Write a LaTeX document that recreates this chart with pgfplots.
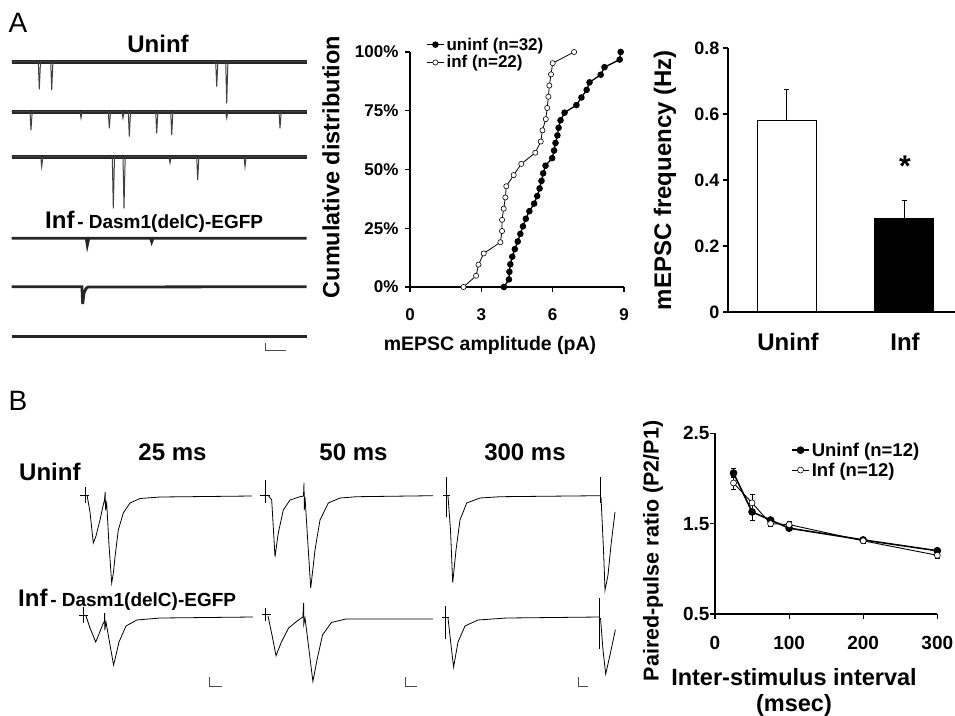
\documentclass[border=0pt]{standalone}
\usepackage{fontspec}
\setmainfont{Liberation Sans}
\usepackage{pgfplots}
\pgfplotsset{compat=1.18}
\newcommand\fs[1]{\fontsize{#1}{#1}\selectfont}
\pgfplotsset{
  panel/.style={scale only axis, anchor=south west, axis lines=left,
    axis line style={-, line width=1.2pt, black}, tick style={line width=1.2pt, black},
    tick align=outside, major tick length=5pt, clip=false,
    /pgf/number format/assume math mode=true},
  legimg/.style={legend image code/.code={
    \draw[mark repeat=2, mark phase=2, ##1] plot coordinates {(0pt,0pt) (8.5pt,0pt) (17pt,0pt)};}},
}
\begin{document}
\begin{tikzpicture}[x=1pt,y=1pt]
\path[use as bounding box] (0,0) rectangle (955,715);

% ---------- traces and labels (image pixel coordinates) ----------
\begin{axis}[at={(0pt,0pt)}, anchor=south west, scale only axis, width=955pt, height=715pt,
  xmin=0, xmax=955, ymin=0, ymax=715, y dir=reverse, hide axis, clip=false]
% A: uninf traces
\addplot[black!85, line width=4.3pt] coordinates {(11.7,61.7) (306.7,61.7)};
\addplot[black!85, line width=4.3pt] coordinates {(11.7,111.7) (306.7,111.7)};
\addplot[black!85, line width=4.3pt] coordinates {(11.7,156.7) (306.7,156.7)};
\addplot[black!75, line width=1pt] coordinates {(11.7,61.7)(38.3,61.7)(39.3,89.3)(40.5,61.7)(50.7,61.7)(51.7,90)(52.9,61.7)(215.7,61.7)(216.7,86.7)(217.9,61.7)(225.7,61.7)(226.7,103.3)(227.9,61.7)(306.7,61.7)};
\addplot[black!75, line width=1pt] coordinates {(11.7,111.7)(30,111.7)(31,130)(32.2,111.7)(80,111.7)(81,118)(82.2,111.7)(108.3,111.7)(109.3,128.3)(110.5,111.7)(122,111.7)(123,118)(124.2,111.7)(128.3,111.7)(129.3,136.7)(130.5,111.7)(155.7,111.7)(156.7,133.3)(157.9,111.7)(170.7,111.7)(171.7,135)(172.9,111.7)(225.7,111.7)(226.7,118)(227.9,111.7)(279,111.7)(280,128.3)(281.2,111.7)(306.7,111.7)};
\addplot[black!75, line width=1pt] coordinates {(11.7,156.7)(40.7,156.7)(41.7,166.7)(42.9,156.7)(112.3,156.7)(113.3,208.3)(114.5,156.7)(123,156.7)(124,208.3)(125.2,156.7)(169,156.7)(170,163)(171.2,156.7)(196.7,156.7)(197.7,180)(198.9,156.7)(244,156.7)(245,166.7)(246.2,156.7)(306.7,156.7)};
% A: inf traces
\addplot[black!85, line width=2.8pt] coordinates {(11.7,238.3)(86.3,238.3)(87.3,245)(88.8,238.3)(150.7,238.3)(151.7,241.7)(153,238.3)(306.7,238.3)};
\addplot[black!85, line width=2.8pt] coordinates {(11.7,286.7)(81.9,286.7)(82.7,304)(84,293)(86,288.5)(88,287)(306.7,286.7)};
\addplot[black!85, line width=2.8pt] coordinates {(11.7,336.7)(306.7,336.7)};
\addplot[black!70, line width=1pt] coordinates {(265.7,343)(265.7,350)(286,350)};
% B: uninf row
\addplot[black, line width=0.8pt] coordinates {(80,495)(89,495)};
\addplot[black, line width=0.8pt] coordinates {(85,487)(85,503)};
\addplot[black, line width=0.8pt] coordinates {(87,495)(90,512)(93.3,543)(96,536)(100,520)(103,506)(104.5,500)(105.2,492)(105.5,510)(106.7,503)(109,545)(111.7,583)(113.5,572)(115,557)(118.3,530)(123.3,513)(130,503)(140,498.5)(160,497)(252,496)};
\addplot[black, line width=0.8pt] coordinates {(260,495)(270,495)};
\addplot[black, line width=0.8pt] coordinates {(265,480)(265,503)};
\addplot[black, line width=0.8pt] coordinates {(268,495)(271.7,500)(275,556.7)(278.3,533)(283.3,510)(290,500)(300,496.7)(303.5,496)(304,483)(304.3,510)(305,497)(308,545)(310.7,588)(313,568)(315,550)(320,520)(328.3,503)(340,498)(356.7,496.7)(433,495.7)};
\addplot[black, line width=0.8pt] coordinates {(443,495)(450,495)};
\addplot[black, line width=0.8pt] coordinates {(446.7,477)(446.7,517)};
\addplot[black, line width=0.8pt] coordinates {(448,496)(450.5,530)(452.7,582.7)(454.5,565)(456,550)(460,520)(466.7,503)(480,498)(500,496.7)(600,495.7)};
\addplot[black, line width=0.8pt] coordinates {(600.3,477)(600.3,503)};
\addplot[black, line width=0.8pt] coordinates {(601,497)(603.5,550)(605,590)(608,575)(611,545)(615,512)};
% B: inf row
\addplot[black, line width=0.8pt] coordinates {(79,615)(88,615)};
\addplot[black, line width=0.8pt] coordinates {(83.2,607)(83.2,623)};
\addplot[black, line width=0.8pt] coordinates {(86,616)(90,628)(95.7,642)(99,634)(102.9,624)(104.6,621)(104.6,613)(104.8,630)(106,622)(110,645)(113.6,665)(116,655)(119,642)(126,626)(136.8,620)(160,618)(253,617)};
\addplot[black, line width=0.8pt] coordinates {(261.8,614)(270.7,614)};
\addplot[black, line width=0.8pt] coordinates {(265.4,608)(265.4,621)};
\addplot[black, line width=0.8pt] coordinates {(268,616)(272,635)(276,655.7)(281.4,642)(288.6,628)(297.5,620.7)(302.9,617)(303.6,603)(303.8,624)(305,618)(309,650)(312.9,681.4)(317,660)(322.5,635)(331.4,622.5)(345.7,619)(433,619)};
\addplot[black, line width=0.8pt] coordinates {(442,617)(449,617)};
\addplot[black, line width=0.8pt] coordinates {(445.7,606)(445.7,638.6)};
\addplot[black, line width=0.8pt] coordinates {(448,618)(451,645)(453.6,667)(458,642)(465,626)(477.9,620)(506.4,618)(599.3,617)};
\addplot[black, line width=0.8pt] coordinates {(599.3,597.5)(599.3,649)};
\addplot[black, line width=0.8pt] coordinates {(600.5,618)(603,650)(605.7,674)(610,655)(615.4,629.6)};
% B scale bars
\addplot[black!70, line width=1pt] coordinates {(209,677)(209,686)(222,686)};
\addplot[black!70, line width=1pt] coordinates {(405,677)(405,686)(417,686)};
\addplot[black!70, line width=1pt] coordinates {(578,677)(578,686)(588,686)};
% labels
\node[font=\fs{28}] at (axis cs:18,23) {A};
\node[font=\fs{28}] at (axis cs:18,401) {B};
\node[font=\bfseries\fs{24}, anchor=base] at (axis cs:158,52.7) {Uninf};
\node[anchor=base west, inner sep=0pt] at (axis cs:45,228) {{\bfseries\fs{24}Inf} {\bfseries\fs{19}- Dasm1(delC)-EGFP}};
\node[rotate=90, font=\bfseries\fs{23.5}] at (axis cs:331,167) {Cumulative distribution};
\node[font=\bfseries\fs{19.5}, anchor=base] at (axis cs:490,350) {mEPSC amplitude (pA)};
\node[rotate=90, font=\bfseries\fs{24}] at (axis cs:665,180) {mEPSC frequency (Hz)};
\node[font=\bfseries\fs{24}, anchor=base] at (axis cs:788,350) {Uninf};
\node[font=\bfseries\fs{24}, anchor=base] at (axis cs:905,350) {Inf};
\node[font=\bfseries\fs{30}] at (axis cs:905,166) {*};
\node[rotate=90, font=\bfseries\fs{21.5}, inner sep=1pt] at (axis cs:653,551) {Paired-pulse ratio (P2/P1)};
\node[font=\bfseries\fontsize{23.5}{26}\selectfont, align=center, anchor=north, inner sep=0pt] at (axis cs:794,668) {Inter-stimulus interval\\(msec)};
\node[font=\bfseries\fs{24}] at (axis cs:172.5,452) {25 ms};
\node[font=\bfseries\fs{24}] at (axis cs:353.5,452) {50 ms};
\node[font=\bfseries\fs{24}] at (axis cs:525,452) {300 ms};
\node[font=\bfseries\fs{24}, anchor=base west, inner sep=0pt] at (axis cs:19,480) {Uninf};
\node[anchor=base west, inner sep=0pt] at (axis cs:18,606) {{\bfseries\fs{24}Inf} {\bfseries\fs{19}- Dasm1(delC)-EGFP}};
\end{axis}

% ---------- cumulative distribution ----------
\begin{axis}[panel, at={(410pt,428pt)}, width=214pt, height=235pt,
  xmin=0, xmax=9, ymin=0, ymax=100, xtick={0,3,6,9}, ytick={0,25,50,75,100},
  yticklabels={0\%,25\%,50\%,75\%,100\%},
  ticklabel style={font=\bfseries\fs{17}}, xticklabel style={yshift=-13pt},
  yticklabel style={xshift=-3pt},
  legimg, legend cell align=left,
  legend style={draw=none, fill=none, at={(0.075,1.07)}, anchor=north west,
    font=\bfseries\fs{17}, inner sep=0pt, row sep=0pt}]
\addplot[black, line width=1.3pt, mark=*, mark size=2.6pt, mark options={fill=black}] coordinates {
(3.95,0)(4.16,3.226)(4.18,6.452)(4.22,9.677)(4.30,12.903)(4.41,16.129)(4.53,19.355)(4.64,22.581)
(4.75,25.806)(4.87,29.032)(5.02,32.258)(5.22,35.484)(5.35,38.710)(5.45,41.935)(5.53,45.161)(5.60,48.387)
(5.70,51.613)(5.98,54.839)(6.06,58.065)(6.12,61.290)(6.20,64.516)(6.25,67.742)(6.33,70.968)(6.50,74.194)
(7.00,77.419)(7.21,80.645)(7.43,83.871)(7.55,87.097)(8.02,90.323)(8.18,93.548)(8.82,96.774)(8.86,100)};
\addlegendentry{uninf (n=32)}
\addplot[black, line width=0.8pt, mark=*, mark size=2.6pt, mark options={fill=white, line width=0.6pt}] coordinates {
(2.25,0)(2.78,4.762)(2.88,9.524)(3.10,14.286)(3.80,19.048)(3.87,23.810)(3.87,28.571)(3.94,33.333)
(4.01,38.095)(4.05,42.857)(4.36,47.619)(4.68,52.381)(5.27,57.143)(5.50,61.905)(5.57,66.667)(5.71,71.429)
(5.77,76.190)(5.82,80.952)(5.86,85.714)(5.93,90.476)(6.00,95.238)(6.90,100)};
\addlegendentry{inf (n=22)}
\end{axis}

% ---------- mEPSC frequency bars ----------
\begin{axis}[panel, at={(728pt,403pt)}, width=227pt, height=264pt,
  xmin=0, xmax=3.86, ymin=0, ymax=0.8, xtick=\empty, ytick={0,0.2,0.4,0.6,0.8},
  yticklabel style={/pgf/number format/fixed, /pgf/number format/precision=1},
  ticklabel style={font=\bfseries\fs{18}}]
\addplot[ybar, bar width=1, bar shift=0pt, fill=white, draw=black, line width=1.2pt,
  error bars/.cd, y dir=plus, y explicit, error bar style={line width=1.2pt},
  error mark options={rotate=90, mark size=2.5pt, line width=1.2pt}]
  coordinates {(1,0.58) +- (0,0.095)};
\addplot[ybar, bar width=1, bar shift=0pt, fill=black, draw=black, line width=1.2pt,
  error bars/.cd, y dir=plus, y explicit, error bar style={line width=1.2pt},
  error mark options={rotate=90, mark size=2.5pt, line width=1.2pt}]
  coordinates {(3,0.284) +- (0,0.055)};
\end{axis}

% ---------- paired-pulse ratio ----------
\begin{axis}[panel, at={(715pt,101pt)}, width=222.3pt, height=180.7pt,
  xmin=0, xmax=300, ymin=0.5, ymax=2.5, xtick={0,100,200,300}, ytick={0.5,1.5,2.5},
  yticklabel style={/pgf/number format/fixed, /pgf/number format/precision=1, xshift=3pt},
  xticklabel style={yshift=-14pt},
  ticklabel style={font=\bfseries\fs{19}},
  legimg, legend cell align=left,
  legend style={draw=none, fill=none, at={(0.342,0.96)}, anchor=north west,
    font=\bfseries\fs{18.5}, inner sep=0pt, row sep=1pt}]
\addplot[black, line width=1.6pt, mark=*, mark size=3pt, mark options={fill=black},
  error bars/.cd, y dir=both, y explicit, error bar style={line width=0.8pt},
  error mark options={rotate=90, mark size=2.5pt, line width=0.8pt}]
  coordinates {(25,2.06) +- (0,0.05) (50,1.63) +- (0,0.09) (75,1.54) +- (0,0.03)
  (100,1.45) +- (0,0.03) (200,1.32) +- (0,0.03) (300,1.20) +- (0,0.03)};
\addlegendentry{Uninf (n=12)}
\addplot[black, line width=0.9pt, mark=*, mark size=3pt, mark options={fill=white, line width=0.6pt},
  error bars/.cd, y dir=both, y explicit, error bar style={line width=0.8pt},
  error mark options={rotate=90, mark size=2.5pt, line width=0.8pt}]
  coordinates {(25,1.95) +- (0,0.07) (50,1.73) +- (0,0.09) (75,1.50) +- (0,0.03)
  (100,1.49) +- (0,0.03) (200,1.31) +- (0,0.03) (300,1.15) +- (0,0.03)};
\addlegendentry{Inf (n=12)}
\end{axis}
\end{tikzpicture}
\end{document}
